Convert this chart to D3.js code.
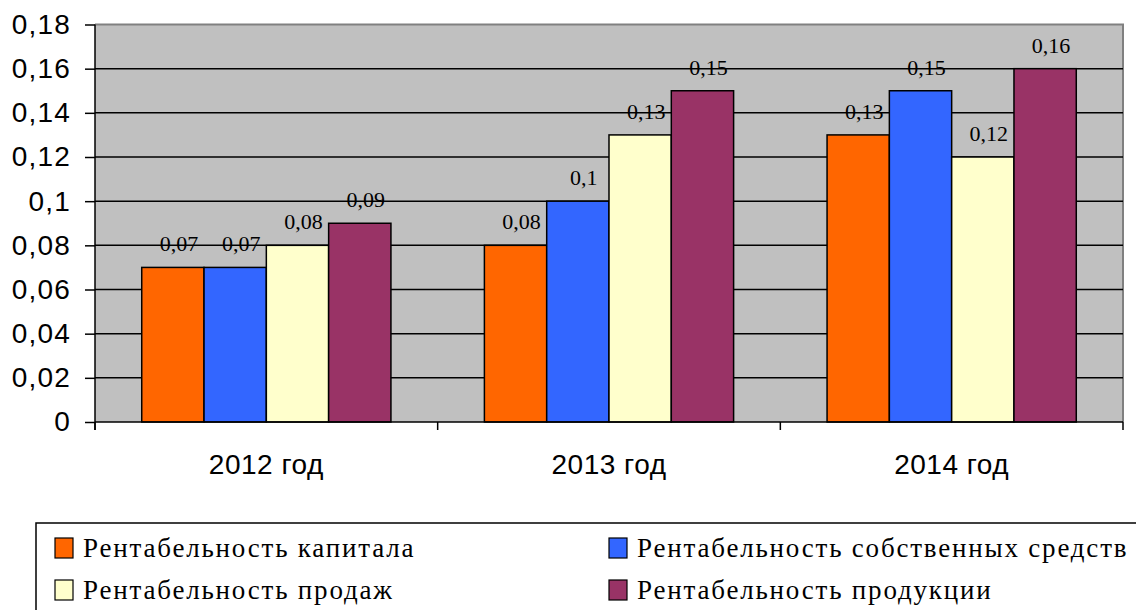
<!DOCTYPE html>
<html>
<head>
<meta charset="utf-8">
<script src="https://cdn.jsdelivr.net/npm/d3@7/dist/d3.min.js"></script>
<style>
  html, body { margin: 0; padding: 0; background: #ffffff; }
  svg { display: block; }
  .serif { font-family: "Liberation Serif", "DejaVu Serif", serif; }
  .sans { font-family: "Liberation Sans", Arial, sans-serif; }
</style>
</head>
<body>
<svg id="chart" width="1136" height="610"></svg>
<script>
// Profitability indicators by year
const years = ["2012 год", "2013 год", "2014 год"];
const seriesNames = [
  "Рентабельность капитала",
  "Рентабельность собственных средств",
  "Рентабельность продаж",
  "Рентабельность продукции"
];
const capitalReturn = [0.07, 0.08, 0.13];
const equityReturn = [0.07, 0.10, 0.15];
const salesReturn = [0.08, 0.13, 0.12];
const productReturn = [0.09, 0.15, 0.16];
const yTicks = [0, 0.02, 0.04, 0.06, 0.08, 0.1, 0.12, 0.14, 0.16, 0.18];
const seriesColors = ["#FF6600", "#3366FF", "#FFFFCC", "#993366"];

const seriesValues = [capitalReturn, equityReturn, salesReturn, productReturn];

const svg = d3.select("#chart");
const plot = { left: 95, right: 1123, top: 24.5, bottom: 422 };

const fmt = v => String(+v.toFixed(2)).replace(".", ",");

const x0 = d3.scaleBand().domain(years).range([plot.left, plot.right]).paddingInner(0).paddingOuter(0);
const x1 = d3.scaleBand().domain(d3.range(seriesNames.length))
  .range([0, x0.bandwidth()]).paddingOuter(0.75).paddingInner(0);
const y = d3.scaleLinear().domain([0, 0.18]).range([plot.bottom, plot.top]);

// plot background
svg.append("rect")
  .attr("x", plot.left).attr("y", plot.top)
  .attr("width", plot.right - plot.left).attr("height", plot.bottom - plot.top)
  .attr("fill", "#C0C0C0");

// top and right frame of the plot area
svg.append("path")
  .attr("d", `M${plot.left},${plot.top}H${plot.right}V${plot.bottom}`)
  .attr("fill", "none").attr("stroke", "#808080").attr("stroke-width", 2);

// horizontal gridlines
svg.append("g").selectAll("line")
  .data(yTicks.filter(t => t > 0 && t < 0.18))
  .join("line")
  .attr("x1", plot.left).attr("x2", plot.right)
  .attr("y1", d => y(d)).attr("y2", d => y(d))
  .attr("stroke", "#000").attr("stroke-width", 1.5);

// bars
const groups = svg.append("g").selectAll("g")
  .data(years)
  .join("g")
  .attr("transform", d => `translate(${x0(d)},0)`);

groups.selectAll("rect")
  .data((d, i) => seriesValues.map((s, k) => ({ k, v: s[i] })))
  .join("rect")
  .attr("x", d => x1(d.k))
  .attr("y", d => y(d.v))
  .attr("width", x1.bandwidth())
  .attr("height", d => y(0) - y(d.v))
  .attr("fill", d => seriesColors[d.k])
  .attr("stroke", "#000").attr("stroke-width", 1.5);

// value labels
groups.selectAll("text")
  .data((d, i) => seriesValues.map((s, k) => ({ k, v: s[i] })))
  .join("text")
  .attr("class", "serif")
  .attr("x", d => x1(d.k) + x1.bandwidth() / 2 + 6)
  .attr("y", d => y(d.v) - 16)
  .attr("text-anchor", "middle")
  .attr("font-size", 22)
  .attr("fill", "#000")
  .text(d => fmt(d.v));

// y axis
const yAxis = svg.append("g")
  .attr("transform", `translate(${plot.left},0)`)
  .call(d3.axisLeft(y).tickValues(yTicks).tickSize(10).tickPadding(14).tickFormat(fmt));
yAxis.attr("font-family", null);
yAxis.select(".domain").attr("stroke", "#000").attr("stroke-width", 1.5)
  .attr("d", `M0,${plot.top}V${plot.bottom + 8}`);
yAxis.selectAll(".tick line").attr("stroke", "#000").attr("stroke-width", 1.5);
yAxis.selectAll(".tick text")
  .attr("class", "sans")
  .attr("font-size", 28).attr("letter-spacing", 1.2).attr("fill", "#000");

// x axis
const xAxis = svg.append("g")
  .attr("transform", `translate(0,${plot.bottom})`)
  .call(d3.axisBottom(x0).tickSize(0).tickPadding(32));
xAxis.attr("font-family", null);
xAxis.select(".domain").attr("stroke", "#000").attr("stroke-width", 1.5)
  .attr("d", `M${plot.left},0H${plot.right}`);
xAxis.selectAll(".tick text")
  .attr("class", "sans")
  .attr("font-size", 28).attr("letter-spacing", 0.5).attr("fill", "#000");
// category separators on the x axis
xAxis.append("g").selectAll("line")
  .data(years.map(yr => x0(yr)).concat([plot.right]))
  .join("line")
  .attr("x1", d => d).attr("x2", d => d)
  .attr("y1", 0).attr("y2", 8)
  .attr("stroke", "#000").attr("stroke-width", 1.5);

// legend
const legend = svg.append("g");
legend.append("rect")
  .attr("x", 36).attr("y", 523)
  .attr("width", 1140).attr("height", 120)
  .attr("fill", "#fff").attr("stroke", "#000").attr("stroke-width", 1.5);

const legendCols = [55, 609];
const legendRows = [548, 590];
const legendItems = legend.selectAll("g.item")
  .data(seriesNames)
  .join("g").attr("class", "item")
  .attr("transform", (d, i) => `translate(${legendCols[i % 2]},${legendRows[Math.floor(i / 2)]})`);
legendItems.append("rect")
  .attr("x", 0).attr("y", -10).attr("width", 18).attr("height", 20)
  .attr("fill", (d, i) => seriesColors[i])
  .attr("stroke", "#000").attr("stroke-width", 1.2);
legendItems.append("text")
  .attr("class", "serif")
  .attr("x", 28).attr("y", 9)
  .attr("font-size", 27).attr("letter-spacing", 1.8).attr("fill", "#000")
  .text(d => d);
</script>
</body>
</html>
